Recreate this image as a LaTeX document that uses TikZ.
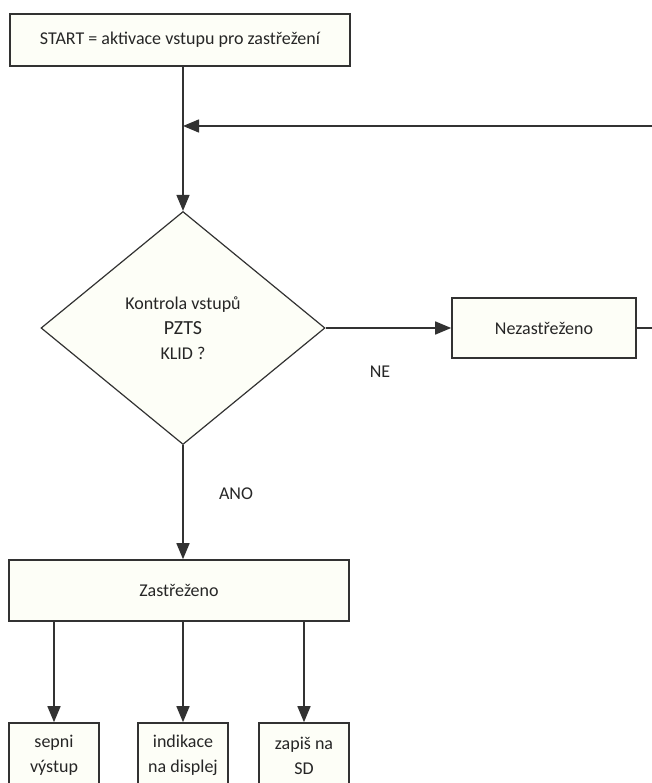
\documentclass[tikz,border=0pt]{standalone}
\usepackage{fontspec}
\setmainfont{Carlito}
\usetikzlibrary{shapes.geometric,arrows.meta}

\definecolor{boxfill}{RGB}{253,254,247}
\definecolor{linegray}{RGB}{50,50,50}

\tikzset{
  box/.style={draw=linegray, line width=1.6pt, fill=boxfill, inner sep=0pt,
    align=center, text=black!85, font=\fontsize{18}{25}\selectfont},
  decision/.style={box, diamond, line width=1.2pt},
  flow/.style={draw=linegray, line width=1.5pt},
  arr/.style={flow, -{Triangle[length=16pt,width=13pt]}},
  lbl/.style={font=\fontsize{18}{20}\selectfont, text=black!85}
}

\begin{document}
\begin{tikzpicture}[x=1pt, y=-1pt]
    \useasboundingbox (0,0) rectangle (652,783);
    \clip (0,0) rectangle (652,783);

    % Start and the test of the inputs
    \node[box, minimum width=340pt, minimum height=52pt] (start) at (180,40)
        {START = aktivace vstupu pro zastřežení};
    \node[decision, minimum width=284pt, minimum height=233pt] (check) at (183,328)
        {Kontrola vstupů\\ {\fontsize{20}{23}\selectfont PZTS}\\ KLID ?};
    \node[box, minimum width=184pt, minimum height=60pt] (nezas) at (544,328)
        {Nezastřeženo};
    \node[box, minimum width=340pt, minimum height=61pt] (zas) at (179,590.5)
        {Zastřeženo};

    % Actions after arming
    \node[box, minimum width=90pt, minimum height=65pt] (out) at (54,755.5)
        {sepni\\ výstup};
    \node[box, minimum width=90pt, minimum height=65pt] (disp) at (183,755.5)
        {indikace\\ na displej};
    \node[box, minimum width=90pt, minimum height=65pt] (sd) at (304,755.5)
        {zapiš na\\ SD};

    % Loop back from the right
    \coordinate (back) at (652,126);

    % Connectors
    \draw[arr] (start.south -| check.north) -- (check.north);
    \draw[arr] (back) -- (back -| check.north);
    \draw[arr] (check.east) -- (nezas.west);
    \draw[flow] (nezas.east) -- (nezas.east -| back);
    \draw[arr] (check.south) -- (zas.north -| check.south);
    \draw[arr] (zas.south -| out.north) -- (out.north);
    \draw[arr] (zas.south -| disp.north) -- (disp.north);
    \draw[arr] (zas.south -| sd.north) -- (sd.north);

    % Branch labels
    \node[lbl] (ne) at (380,372) {NE};
    \node[lbl] (ano) at (236,494) {ANO};
\end{tikzpicture}
\end{document}
